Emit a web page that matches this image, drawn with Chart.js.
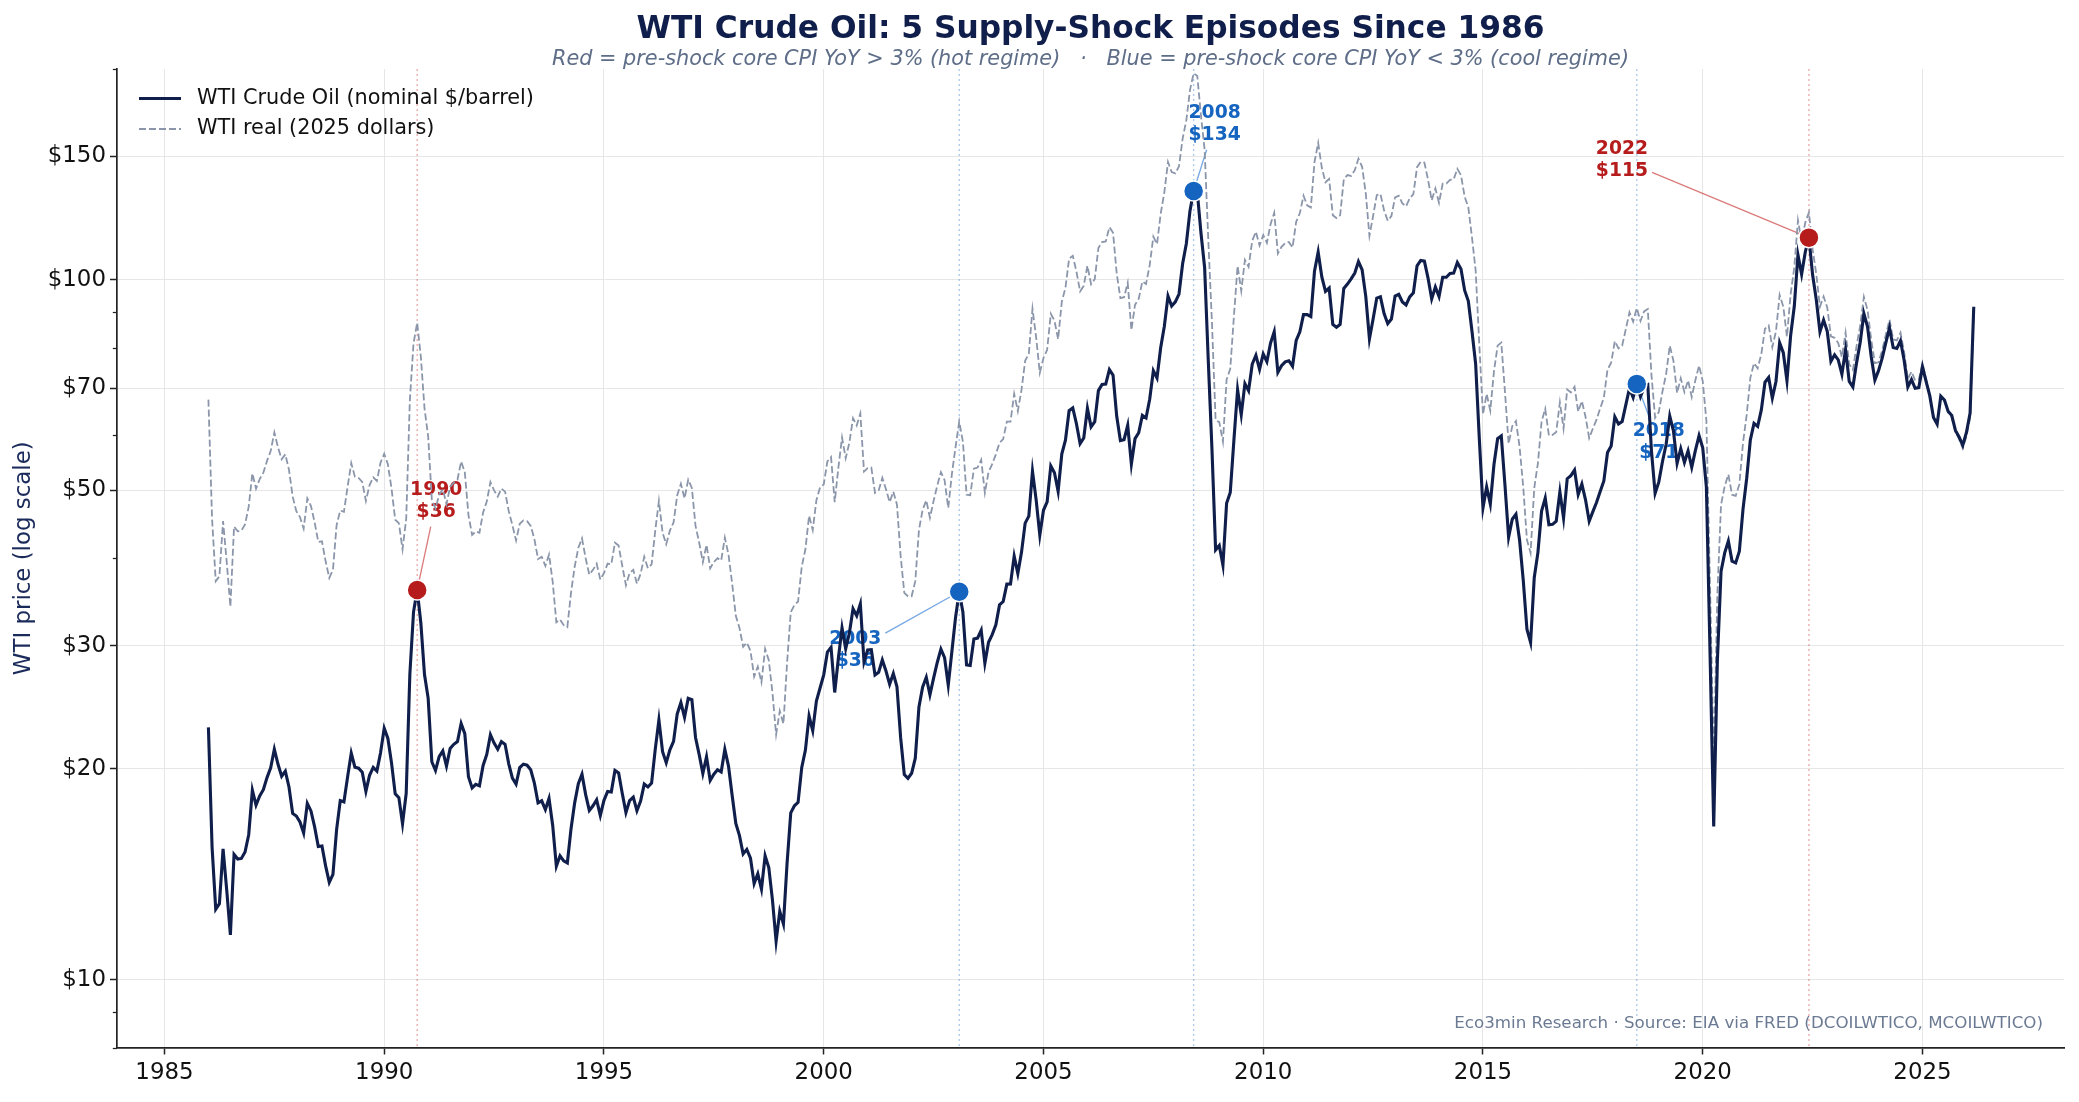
<!DOCTYPE html>
<html lang="en">
<head>
<meta charset="UTF-8" />
<title>WTI Crude Oil: 5 Supply-Shock Episodes Since 1986</title>
<script src="https://cdn.jsdelivr.net/npm/chart.js"></script>
<style>
  body { margin: 0; background: #fff; }
  canvas { display: block; }
</style>
</head>
<body>
<canvas id="oilChart" width="2079" height="1102"></canvas>
<script>
// monthly averages, Jan 1986 .. Mar 2026
const firstYear = 1986;

const wtiNominal = [
  22.93, 15.46, 12.61, 12.84, 15.38, 13.43, 11.59, 15.10, 14.87, 14.90, 15.22, 16.11, // 1986
  18.65, 17.75, 18.30, 18.68, 19.44, 20.07, 21.34, 20.31, 19.53, 19.86, 18.85, 17.28, // 1987
  17.13, 16.80, 16.20, 17.86, 17.42, 16.53, 15.50, 15.52, 14.54, 13.77, 14.14, 16.38, // 1988
  18.02, 17.94, 19.48, 21.07, 20.12, 20.05, 19.78, 18.58, 19.59, 20.10, 19.86, 21.10, // 1989
  22.86, 22.11, 20.39, 18.43, 18.20, 16.70, 18.45, 27.31, 33.51, 36.04, 32.33, 27.28, // 1990
  25.23, 20.48, 19.90, 20.83, 21.23, 20.19, 21.40, 21.69, 21.89, 23.23, 22.46, 19.50, // 1991
  18.79, 19.01, 18.92, 20.23, 20.98, 22.39, 21.78, 21.34, 21.88, 21.69, 20.34, 19.41, // 1992
  19.03, 20.09, 20.32, 20.25, 19.95, 19.09, 17.89, 18.01, 17.50, 18.15, 16.61, 14.52, // 1993
  15.03, 14.78, 14.68, 16.42, 17.89, 19.06, 19.66, 18.38, 17.45, 17.72, 18.07, 17.16, // 1994
  18.04, 18.57, 18.54, 19.90, 19.74, 18.45, 17.33, 18.02, 18.23, 17.43, 17.99, 19.03, // 1995
  18.85, 19.09, 21.33, 23.50, 21.17, 20.42, 21.30, 21.90, 23.97, 24.88, 23.71, 25.23, // 1996
  25.13, 22.18, 20.97, 19.70, 20.82, 19.26, 19.66, 19.95, 19.80, 21.33, 20.19, 18.33, // 1997
  16.72, 16.06, 15.12, 15.35, 14.91, 13.72, 14.17, 13.47, 15.03, 14.46, 13.00, 11.35, // 1998
  12.52, 12.01, 14.68, 17.31, 17.72, 17.92, 20.10, 21.28, 23.80, 22.69, 25.00, 26.10, // 1999
  27.26, 29.37, 29.84, 25.72, 28.79, 31.82, 29.70, 31.26, 33.88, 33.11, 34.42, 28.44, // 2000
  29.59, 29.61, 27.24, 27.49, 28.63, 27.60, 26.43, 27.37, 26.20, 22.17, 19.64, 19.39, // 2001
  19.72, 20.72, 24.53, 26.18, 27.04, 25.52, 26.97, 28.39, 29.66, 28.84, 26.35, 29.46, // 2002
  32.95, 35.83, 33.51, 28.17, 28.11, 30.66, 30.76, 31.57, 28.31, 30.34, 31.11, 32.13, // 2003
  34.31, 34.69, 36.74, 36.75, 40.28, 38.03, 40.78, 44.90, 45.94, 53.28, 48.47, 43.15, // 2004
  46.84, 48.15, 54.19, 52.98, 49.83, 56.35, 59.00, 64.99, 65.59, 62.26, 58.32, 59.41, // 2005
  65.49, 61.63, 62.69, 69.44, 70.84, 70.95, 74.41, 73.04, 63.80, 58.89, 59.08, 61.96, // 2006
  54.51, 59.28, 60.44, 63.98, 63.45, 67.49, 74.12, 72.36, 79.92, 85.80, 94.77, 91.69, // 2007
  92.97, 95.39, 105.45, 112.58, 125.40, 133.88, 133.37, 116.67, 104.11, 76.61, 57.31, 41.12, // 2008
  41.71, 39.09, 47.94, 49.65, 59.03, 69.64, 64.15, 71.05, 69.41, 75.72, 77.99, 74.47, // 2009
  78.33, 76.39, 81.20, 84.29, 73.74, 75.34, 76.32, 76.60, 75.24, 81.89, 84.25, 89.15, // 2010
  89.17, 88.58, 102.86, 109.53, 100.90, 96.26, 97.30, 86.33, 85.52, 86.32, 97.16, 98.56, // 2011
  100.27, 102.20, 106.16, 103.32, 94.66, 82.30, 87.90, 94.13, 94.51, 89.49, 86.53, 87.86, // 2012
  94.76, 95.31, 92.94, 92.02, 94.51, 95.77, 104.67, 106.57, 106.29, 100.54, 93.86, 97.63, // 2013
  94.62, 100.82, 100.80, 102.07, 102.18, 105.79, 103.59, 96.54, 93.21, 84.40, 75.79, 59.29, // 2014
  47.22, 50.58, 47.82, 54.45, 59.27, 59.82, 50.90, 42.87, 45.48, 46.22, 42.44, 37.19, // 2015
  31.68, 30.32, 37.55, 40.75, 46.71, 48.76, 44.65, 44.72, 45.18, 49.78, 45.66, 51.97, // 2016
  52.50, 53.47, 49.33, 51.06, 48.48, 45.18, 46.63, 48.04, 49.82, 51.58, 56.64, 57.88, // 2017
  63.70, 62.23, 62.73, 66.25, 69.98, 67.87, 70.98, 68.06, 70.23, 70.75, 56.96, 49.52, // 2018
  51.38, 54.95, 58.15, 63.86, 60.83, 54.66, 57.35, 54.81, 56.95, 53.96, 57.03, 59.88, // 2019
  57.52, 50.54, 29.21, 16.55, 28.56, 38.31, 40.71, 42.34, 39.63, 39.40, 40.94, 47.02, // 2020
  52.00, 59.04, 62.33, 61.72, 65.17, 71.38, 72.49, 67.73, 71.54, 81.22, 78.65, 71.71, // 2021
  83.22, 91.64, 108.50, 101.78, 109.55, 114.84, 101.62, 93.67, 84.26, 87.55, 84.37, 76.44, // 2022
  78.12, 76.83, 73.28, 79.45, 71.58, 70.25, 76.07, 81.39, 89.43, 85.64, 77.69, 71.90, // 2023
  74.15, 77.25, 81.28, 85.35, 80.02, 79.77, 81.80, 76.68, 70.24, 71.99, 69.95, 70.12, // 2024
  75.10, 71.53, 68.24, 63.54, 62.17, 68.17, 67.33, 64.86, 63.96, 60.90, 59.60, 58.00, // 2025
  60.50, 64.50, 91.50                                                                 // 2026
];

// same months, in 2025 dollars
const wtiReal = [
  67.4, 45.5, 37.1, 37.7, 45.2, 39.5, 34.1, 44.4, 43.7, 43.8, 44.7, 47.4, // 1986
  52.9, 50.3, 51.9, 53.0, 55.1, 56.9, 60.5, 57.6, 55.4, 56.3, 53.5, 49.0, // 1987
  46.7, 45.8, 44.1, 48.7, 47.5, 45.0, 42.2, 42.3, 39.6, 37.5, 38.5, 44.6, // 1988
  46.8, 46.6, 50.6, 54.7, 52.3, 52.1, 51.4, 48.3, 50.9, 52.2, 51.6, 54.8, // 1989
  56.4, 54.5, 50.3, 45.4, 44.9, 41.2, 45.5, 67.3, 81.1, 86.8, 77.6, 65.5, // 1990
  59.7, 48.5, 47.1, 49.3, 50.2, 47.8, 50.6, 51.3, 51.8, 55.0, 53.1, 46.1, // 1991
  43.2, 43.7, 43.5, 46.5, 48.2, 51.4, 50.0, 49.0, 50.3, 49.8, 46.7, 44.6, // 1992
  42.4, 44.8, 45.3, 45.2, 44.5, 42.6, 39.9, 40.2, 39.0, 40.5, 37.0, 32.4, // 1993
  32.7, 32.1, 31.9, 35.7, 38.9, 41.4, 42.7, 40.0, 37.9, 38.5, 39.3, 37.3, // 1994
  38.1, 39.3, 39.2, 42.1, 41.7, 39.0, 36.6, 38.1, 38.5, 36.8, 38.0, 40.2, // 1995
  38.7, 39.2, 43.8, 48.3, 43.5, 41.9, 43.8, 45.0, 49.2, 51.1, 48.7, 51.8, // 1996
  50.4, 44.5, 42.1, 39.5, 41.8, 38.7, 39.5, 40.0, 39.7, 42.8, 40.5, 36.8, // 1997
  33.1, 31.8, 29.9, 30.3, 29.5, 27.1, 28.0, 26.6, 29.7, 28.6, 25.7, 22.4, // 1998
  24.2, 23.2, 28.4, 33.5, 34.3, 34.7, 38.9, 41.2, 46.0, 43.9, 48.4, 50.5, // 1999
  51.0, 55.0, 55.8, 48.1, 53.9, 59.5, 55.6, 58.5, 63.4, 61.9, 64.4, 53.2, // 2000
  53.8, 53.9, 49.6, 50.0, 52.1, 50.2, 48.1, 49.8, 47.7, 40.3, 35.7, 35.3, // 2001
  35.3, 37.1, 43.9, 46.9, 48.4, 45.7, 48.3, 50.8, 53.1, 51.7, 47.2, 52.8, // 2002
  57.7, 62.7, 58.7, 49.3, 49.2, 53.7, 53.9, 55.3, 49.6, 53.1, 54.5, 56.3, // 2003
  58.5, 59.2, 62.7, 62.7, 68.7, 64.9, 69.6, 76.6, 78.4, 90.9, 82.7, 73.6, // 2004
  77.3, 79.4, 89.4, 87.4, 82.2, 93.0, 97.4, 107.2, 108.2, 102.7, 96.2, 98.0, // 2005
  104.7, 98.5, 100.2, 111.0, 113.2, 113.4, 118.9, 116.7, 102.0, 94.1, 94.4, 99.0, // 2006
  84.7, 92.1, 93.9, 99.4, 98.6, 104.9, 115.2, 112.4, 124.2, 133.3, 147.3, 142.5, // 2007
  141.9, 145.2, 159.1, 168.9, 186.6, 197.2, 195.4, 171.6, 153.4, 114.0, 86.9, 63.0, // 2008
  62.6, 58.7, 72.0, 74.6, 88.7, 104.6, 96.4, 106.7, 104.3, 113.7, 117.1, 111.9, // 2009
  115.8, 112.9, 120.0, 124.6, 109.0, 111.4, 112.8, 113.2, 111.2, 121.0, 124.5, 131.8, // 2010
  127.7, 126.8, 147.3, 156.8, 144.5, 137.8, 139.3, 123.6, 122.5, 123.6, 139.1, 141.1, // 2011
  140.7, 143.4, 148.9, 145.0, 132.8, 115.5, 123.3, 132.1, 132.6, 125.6, 121.4, 123.3, // 2012
  131.1, 131.8, 128.5, 127.3, 130.7, 132.5, 144.8, 147.4, 147.0, 139.0, 129.8, 135.0, // 2013
  128.8, 137.2, 137.2, 138.9, 139.1, 144.0, 141.0, 131.4, 126.9, 114.9, 103.1, 80.7, // 2014
  64.2, 68.7, 65.0, 74.0, 80.5, 81.3, 69.2, 58.3, 61.8, 62.8, 57.7, 50.5, // 2015
  42.5, 40.7, 50.4, 54.7, 62.7, 65.4, 59.9, 60.0, 60.6, 66.8, 61.3, 69.7, // 2016
  69.0, 70.3, 64.8, 67.1, 63.7, 59.4, 61.3, 63.1, 65.5, 67.8, 74.4, 76.1, // 2017
  81.7, 79.8, 80.5, 85.0, 89.8, 87.1, 91.1, 87.3, 90.1, 90.8, 73.1, 63.5, // 2018
  64.7, 69.2, 73.3, 80.5, 76.6, 68.9, 72.3, 69.1, 71.8, 68.0, 71.9, 75.4, // 2019
  71.6, 62.9, 36.4, 20.6, 35.6, 47.7, 50.7, 52.7, 49.3, 49.1, 51.0, 58.5, // 2020
  64.1, 72.4, 76.0, 74.7, 78.3, 85.1, 86.0, 80.1, 84.4, 95.1, 91.5, 82.9, // 2021
  95.4, 104.1, 121.6, 113.4, 120.7, 124.8, 110.5, 101.9, 91.5, 94.6, 91.3, 83.0, // 2022
  82.6, 81.2, 77.5, 84.0, 75.7, 74.3, 80.4, 86.0, 94.5, 90.5, 82.1, 76.0, // 2023
  76.2, 79.3, 83.5, 87.7, 82.2, 81.9, 84.0, 78.8, 72.1, 73.9, 71.8, 72.0, // 2024
  75.9, 72.1, 68.6, 63.8, 62.3, 68.2, 67.2, 64.6, 63.6, 60.6, 59.2, 57.4, // 2025
  59.7, 63.5, 90.1                                                        // 2026
];

const shockMonths = ['1990-10', '2003-02', '2008-06', '2018-07', '2022-06'];
const shockRegime = ['hot', 'cool', 'cool', 'cool', 'hot'];

const yearTicks = [1985, 1990, 1995, 2000, 2005, 2010, 2015, 2020, 2025];
const priceTicks = [10, 20, 30, 50, 70, 100, 150];
const priceMinorTicks = [8, 9, 40, 60, 80, 90, 200];

const FONT = "'DejaVu Sans', sans-serif";
const NAVY = '#0f1e4a';
const REAL_GREY = '#8b96aa';
const regimeColor = { hot: '#b71c1c', cool: '#1565c0' };
const regimeFaint = { hot: 'rgba(214,60,60,0.45)', cool: 'rgba(70,130,210,0.45)' };
const regimeLink = { hot: 'rgba(200,50,50,0.65)', cool: 'rgba(60,130,215,0.7)' };

// where each shock label sits relative to its dot (px): x shift, centre of first line
const labelShift = [
  { dx: 19, dy: -99.5 },
  { dx: -104, dy: 47.5 },
  { dx: 21, dy: -77.5 },
  { dx: 22, dy: 47.5 },
  { dx: -187, dy: -88.5 }
];

function monthTime(i) {
  return firstYear + i / 12;
}
function shockIndex(k) {
  const [y, m] = shockMonths[k].split('-').map(Number);
  return (y - firstYear) * 12 + (m - 1);
}

const nominalPts = wtiNominal.map((v, i) => ({ x: monthTime(i), y: v }));
const realPts = wtiReal.map((v, i) => ({ x: monthTime(i), y: v }));
const shockPts = shockMonths.map((m, k) => {
  const i = shockIndex(k);
  return { x: monthTime(i), y: wtiNominal[i] };
});

const shockPlugin = {
  id: 'shocks',
  beforeDatasetsDraw(chart) {
    const { ctx, chartArea, scales } = chart;
    const x = scales.x, y = scales.y;
    ctx.save();
    // dotted guides
    shockPts.forEach((p, k) => {
      const px = x.getPixelForValue(p.x);
      ctx.strokeStyle = regimeFaint[shockRegime[k]];
      ctx.lineWidth = 1.3;
      ctx.setLineDash([2, 3]);
      ctx.beginPath();
      ctx.moveTo(px, chartArea.top);
      ctx.lineTo(px, chartArea.bottom);
      ctx.stroke();
    });
    ctx.setLineDash([]);

    // labels + connectors
    ctx.font = 'bold 18.75px ' + FONT;
    ctx.textAlign = 'center';
    ctx.textBaseline = 'middle';
    const lineH = 21.5;
    shockPts.forEach((p, k) => {
      const px = x.getPixelForValue(p.x);
      const py = y.getPixelForValue(p.y);
      const l1 = shockMonths[k].slice(0, 4);
      const l2 = '$' + Math.round(p.y);
      const cx = px + labelShift[k].dx;
      const cy = py + labelShift[k].dy + lineH / 2;
      const w = Math.max(ctx.measureText(l1).width, ctx.measureText(l2).width);
      const hw = w / 2 + 4, hh = lineH + 4;
      const vx = px - cx, vy = py - cy;
      const s = Math.min(hw / Math.max(Math.abs(vx), 1e-6), hh / Math.max(Math.abs(vy), 1e-6));
      ctx.strokeStyle = regimeLink[shockRegime[k]];
      ctx.lineWidth = 1.3;
      ctx.beginPath();
      ctx.moveTo(cx + vx * s, cy + vy * s);
      ctx.lineTo(px, py);
      ctx.stroke();
      ctx.fillStyle = regimeColor[shockRegime[k]];
      ctx.fillText(l1, cx, cy - lineH / 2);
      ctx.fillText(l2, cx, cy + lineH / 2);
    });
    ctx.restore();
  },
  afterDraw(chart) {
    const { ctx, chartArea, scales } = chart;
    const y = scales.y;
    ctx.save();
    // minor log ticks
    ctx.strokeStyle = '#222';
    ctx.lineWidth = 1.25;
    priceMinorTicks.forEach(v => {
      const py = Math.round(y.getPixelForValue(v)) + 0.5;
      ctx.beginPath();
      ctx.moveTo(chartArea.left - 4.2, py);
      ctx.lineTo(chartArea.left, py);
      ctx.stroke();
    });

    // title block
    const midX = (chartArea.left + chartArea.right) / 2;
    ctx.textAlign = 'center';
    ctx.textBaseline = 'middle';
    ctx.fillStyle = NAVY;
    ctx.font = 'bold 31.25px ' + FONT;
    ctx.fillText('WTI Crude Oil: 5 Supply-Shock Episodes Since 1986', midX, 29.5);
    ctx.fillStyle = '#5e6d88';
    ctx.font = 'italic 20.8px ' + FONT;
    ctx.fillText('Red = pre-shock core CPI YoY > 3% (hot regime)   \u00b7   Blue = pre-shock core CPI YoY < 3% (cool regime)', midX, 59.5);

    // y title
    ctx.save();
    ctx.translate(24, (chartArea.top + chartArea.bottom) / 2);
    ctx.rotate(-Math.PI / 2);
    ctx.fillStyle = '#1a2a5a';
    ctx.font = '22.9px ' + FONT;
    ctx.fillText('WTI price (log scale)', 0, 0);
    ctx.restore();

    // legend
    const lx = chartArea.left + 22, ly1 = 98.5, ly2 = 129;
    ctx.strokeStyle = NAVY;
    ctx.lineWidth = 3.1;
    ctx.beginPath(); ctx.moveTo(lx, ly1); ctx.lineTo(lx + 42, ly1); ctx.stroke();
    ctx.strokeStyle = REAL_GREY;
    ctx.lineWidth = 1.8;
    ctx.setLineDash([7, 3]);
    ctx.beginPath(); ctx.moveTo(lx, ly2); ctx.lineTo(lx + 42, ly2); ctx.stroke();
    ctx.setLineDash([]);
    ctx.fillStyle = '#111';
    ctx.textAlign = 'left';
    ctx.font = '20.8px ' + FONT;
    ctx.fillText('WTI Crude Oil (nominal $/barrel)', lx + 58, ly1);
    ctx.fillText('WTI real (2025 dollars)', lx + 58, ly2);

    // source note
    ctx.textAlign = 'right';
    ctx.fillStyle = '#6b7a93';
    ctx.font = '16.7px ' + FONT;
    ctx.fillText('Eco3min Research \u00b7 Source: EIA via FRED (DCOILWTICO, MCOILWTICO)', chartArea.right - 21, 1024);
    ctx.restore();
  }
};

new Chart(document.getElementById('oilChart'), {
  type: 'line',
  data: {
    datasets: [
      {
        type: 'scatter',
        label: 'shocks',
        data: shockPts,
        pointRadius: 10,
        pointBackgroundColor: shockRegime.map(r => regimeColor[r]),
        pointBorderColor: '#ffffff',
        pointBorderWidth: 1.5,
        showLine: false,
        order: 0
      },
      {
        label: 'WTI Crude Oil (nominal $/barrel)',
        data: nominalPts,
        borderColor: NAVY,
        borderWidth: 3.1,
        pointRadius: 0,
        tension: 0,
        fill: false,
        order: 1
      },
      {
        label: 'WTI real (2025 dollars)',
        data: realPts,
        borderColor: REAL_GREY,
        borderWidth: 1.8,
        borderDash: [7, 3],
        pointRadius: 0,
        tension: 0,
        fill: false,
        order: 2
      }
    ]
  },
  options: {
    responsive: false,
    animation: false,
    devicePixelRatio: 1,
    events: [],
    parsing: false,
    layout: { padding: { top: 69, right: 15, left: 0, bottom: 0 } },
    plugins: {
      legend: { display: false },
      tooltip: { enabled: false },
      title: { display: false }
    },
    scales: {
      x: {
        type: 'linear',
        min: 1983.92,
        max: 2028.22,
        afterBuildTicks: s => { s.ticks = yearTicks.map(v => ({ value: v })); },
        afterFit: s => { s.height = 54.5; },
        grid: { color: '#e6e6e6', lineWidth: 1, tickColor: '#222', tickLength: 7, tickWidth: 1.5 },
        border: { color: '#222', width: 1.7 },
        ticks: {
          color: '#111',
          font: { family: FONT, size: 22.9 },
          padding: 5,
          maxRotation: 0,
          callback: v => String(v)
        }
      },
      y: {
        type: 'logarithmic',
        min: 8,
        max: 200,
        afterBuildTicks: s => { s.ticks = priceTicks.map(v => ({ value: v })); },
        afterFit: s => { s.width = 117; },
        grid: { color: '#e6e6e6', lineWidth: 1, tickColor: '#222', tickLength: 7, tickWidth: 1.5 },
        border: { color: '#222', width: 1.7 },
        ticks: {
          color: '#111',
          font: { family: FONT, size: 22.9 },
          padding: 4,
          callback: v => '$' + v
        }
      }
    }
  },
  plugins: [shockPlugin]
});
</script>
</body>
</html>
